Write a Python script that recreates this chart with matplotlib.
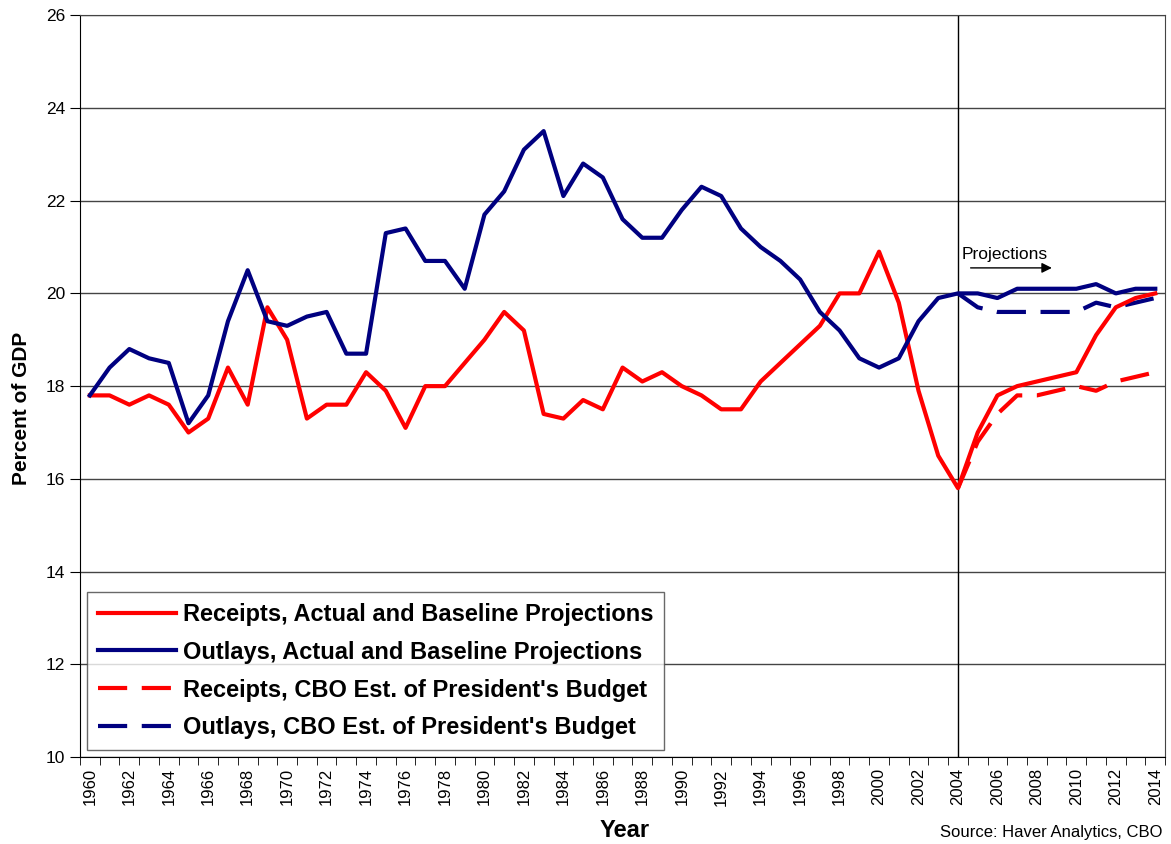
import numpy as np
import matplotlib
matplotlib.use('Agg')
import matplotlib.pyplot as plt

plt.rcParams['font.family'] = ['Liberation Sans', 'DejaVu Sans']

years = list(range(1960, 2015))

receipts = [17.8, 17.8, 17.6, 17.8, 17.6, 17.0, 17.3, 18.4, 17.6, 19.7,
            19.0, 17.3, 17.6, 17.6, 18.3, 17.9, 17.1, 18.0, 18.0, 18.5,
            19.0, 19.6, 19.2, 17.4, 17.3, 17.7, 17.5, 18.4, 18.1, 18.3,
            18.0, 17.8, 17.5, 17.5, 18.1, 18.5, 18.9, 19.3, 20.0, 20.0,
            20.9, 19.8, 17.9, 16.5, 15.8, 17.0, 17.8, 18.0, 18.1, 18.2,
            18.3, 19.1, 19.7, 19.9, 20.0]

outlays = [17.8, 18.4, 18.8, 18.6, 18.5, 17.2, 17.8, 19.4, 20.5, 19.4,
           19.3, 19.5, 19.6, 18.7, 18.7, 21.3, 21.4, 20.7, 20.7, 20.1,
           21.7, 22.2, 23.1, 23.5, 22.1, 22.8, 22.5, 21.6, 21.2, 21.2,
           21.8, 22.3, 22.1, 21.4, 21.0, 20.7, 20.3, 19.6, 19.2, 18.6,
           18.4, 18.6, 19.4, 19.9, 20.0, 20.0, 19.9, 20.1, 20.1, 20.1,
           20.1, 20.2, 20.0, 20.1, 20.1]

pres_years = list(range(2004, 2015))
pres_receipts = [15.8, 16.8, 17.4, 17.8, 17.8, 17.9, 18.0, 17.9, 18.1, 18.2, 18.3]
pres_outlays = [20.0, 19.7, 19.6, 19.6, 19.6, 19.6, 19.6, 19.8, 19.7, 19.8, 19.9]

red = '#ff0000'
navy = '#000080'

fig = plt.figure(figsize=(11.71, 8.44), dpi=100)
ax = fig.add_axes([0.0683, 0.103, 0.9267, 0.879])

ax.plot(years, receipts, color=red, lw=3, label='Receipts, Actual and Baseline Projections', zorder=4)
ax.plot(years, outlays, color=navy, lw=3, label='Outlays, Actual and Baseline Projections', zorder=4)
ax.plot(pres_years, pres_receipts, color=red, lw=3, dashes=(7, 3.5),
        label="Receipts, CBO Est. of President's Budget", zorder=3)
ax.plot(pres_years, pres_outlays, color=navy, lw=3, dashes=(7, 3.5),
        label="Outlays, CBO Est. of President's Budget", zorder=3)

ax.axvline(2004, color='black', lw=1, zorder=2)

ax.set_xlim(1959.5, 2014.5)
ax.set_ylim(10, 26)
ax.set_yticks(np.arange(10, 27, 2))
ax.set_xticks(years[::2])
ax.set_xticks(np.arange(1959.5, 2015, 1), minor=True)
ax.set_xticklabels([str(y) for y in years[::2]], rotation=90, fontsize=12)
ax.tick_params(axis='y', labelsize=12.5, direction='out', length=7, color='black')
ax.tick_params(axis='x', which='major', length=0, pad=8)
ax.tick_params(axis='x', which='minor', direction='out', length=6, color='black')
ax.grid(axis='y', color='#444444', lw=1)
ax.set_axisbelow(True)
for s in ax.spines.values():
    s.set_color('#444444')
ax.spines['left'].set_color('black')
ax.spines['bottom'].set_color('black')

ax.set_ylabel('Percent of GDP', fontsize=15, fontweight='bold')
ax.yaxis.set_label_coords(-0.045, 0.47)
ax.set_xlabel('Year', fontsize=17, fontweight='bold')
ax.xaxis.set_label_coords(0.502, -0.084)

ax.text(2004.2, 20.75, 'Projections', fontsize=12.5, zorder=5)
ax.annotate('', xy=(2008.9, 20.55), xytext=(2004.5, 20.55),
            arrowprops=dict(arrowstyle='-|>', color='black', lw=1, mutation_scale=15))

fig.text(0.993, 0.005, 'Source: Haver Analytics, CBO', ha='right', va='bottom', fontsize=12)

leg = ax.legend(loc='lower left', bbox_to_anchor=(0.0065, 0.0095),
                prop={'weight': 'bold', 'size': 17}, frameon=True, fancybox=False,
                edgecolor='#444444', handlelength=3.3, handletextpad=0.3,
                labelspacing=0.63, borderpad=0.45, borderaxespad=0)
leg.get_frame().set_linewidth(1)

fig.savefig('out.png', dpi=100)
